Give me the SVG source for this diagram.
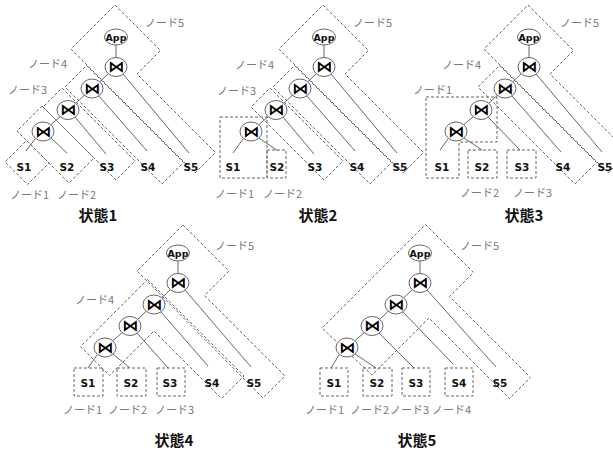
<svg xmlns="http://www.w3.org/2000/svg" width="613" height="450" viewBox="0 0 613 450">
<style>
.bg{fill:#ffffff}
.box{fill:none;stroke:#666;stroke-width:1;stroke-dasharray:3,2}
.ln{stroke:#555;stroke-width:0.9;fill:none}
.ov{fill:#fff;stroke:#666;stroke-width:1}
.s{font-family:"DejaVu Sans",sans-serif;font-weight:bold;font-size:10.5px;fill:#111;text-anchor:middle}
.app{font-family:"DejaVu Sans",sans-serif;font-weight:bold;font-size:9.5px;fill:#111;text-anchor:middle}
.bt{font-family:"DejaVu Sans",sans-serif;font-weight:bold;font-size:16px;fill:#000;text-anchor:middle}
.lbl{font-family:"Noto Sans CJK JP",sans-serif;font-size:11px;fill:#777}
.ttl{font-family:"Noto Sans CJK JP",sans-serif;font-weight:bold;font-size:15px;fill:#111;text-anchor:middle}
</style>
<rect class="bg" width="613" height="450"/>

<!-- ================= 状態1 ================= -->
<g id="s1-node5"><polygon class="box" points="115,5 160.5,50.5 137,74 215.5,152.5 195,173 71,49"/><text class="lbl" x="145" y="27">ノード5</text></g>
<g id="s1-node4"><polygon class="box" points="86.5,65.5 183.5,162.5 162,184 65,87"/><text class="lbl" x="28" y="68">ノード4</text></g>
<g id="s1-node3"><polygon class="box" points="62,88 135,161 116,180 43,107"/><text class="lbl" x="8" y="94">ノード3</text></g>
<g id="s1-node2"><polygon class="box" points="42,106 94,158 69,183 17,131"/><text class="lbl" x="57" y="199">ノード2</text></g>
<g id="s1-node1"><polygon class="box" points="26.5,140.5 49,163 27.5,184.5 5,162"/><text class="lbl" x="10" y="199">ノード1</text></g>

<!-- ================= 状態2 ================= -->
<g id="s2-node5"><polygon class="box" points="323,5 368.5,50.5 345,74 423.5,152.5 403,173 279,49"/><text class="lbl" x="353" y="27">ノード5</text></g>
<g id="s2-node4"><polygon class="box" points="294.5,65.5 391.5,162.5 370,184 273,87"/><text class="lbl" x="235" y="69">ノード4</text></g>
<g id="s2-node3"><polygon class="box" points="270,88 343,161 324,180 251,107"/><text class="lbl" x="217" y="95">ノード3</text></g>
<g id="s2-node1"><rect class="box" x="220" y="117" width="47" height="61"/><text class="lbl" x="215" y="198">ノード1</text></g>
<g id="s2-node2"><rect class="box" x="267" y="150" width="19" height="28"/><text class="lbl" x="263" y="198">ノード2</text></g>

<!-- ================= 状態3 ================= -->
<g id="s3-node5"><polygon class="box" points="528,5 573.5,50.5 550,74 628.5,152.5 608,173 484,49"/><text class="lbl" x="560" y="27">ノード5</text></g>
<g id="s3-node4"><polygon class="box" points="499.5,65.5 596.5,162.5 575,184 478,87"/><text class="lbl" x="442" y="69">ノード4</text></g>
<g id="s3-node1"><polygon class="box" points="426,97 497,97 497,142 459,142 459,178 426,178"/><text class="lbl" x="413" y="94">ノード1</text></g>
<g id="s3-node2"><rect class="box" x="468" y="150" width="29" height="28"/><text class="lbl" x="460" y="197">ノード2</text></g>
<g id="s3-node3"><rect class="box" x="507" y="150" width="29" height="28"/><text class="lbl" x="513" y="197">ノード3</text></g>

<!-- ================= 状態4 ================= -->
<g id="s4-node5"><polygon class="box" points="183,225 229,271 204.5,295.5 285,376 263,398 137,271"/><text class="lbl" x="215" y="250">ノード5</text></g>
<g id="s4-node4"><polygon class="box" points="147.5,279.5 244,376 221.5,398.5 154,331 109.5,375.5 80.5,346.5"/><text class="lbl" x="75" y="304">ノード4</text></g>
<g id="s4-node1"><rect class="box" x="74" y="368" width="29" height="28"/><text class="lbl" x="63" y="414">ノード1</text></g>
<g id="s4-node2"><rect class="box" x="117" y="368" width="29" height="28"/><text class="lbl" x="108" y="414">ノード2</text></g>
<g id="s4-node3"><rect class="box" x="157" y="368" width="28" height="28"/><text class="lbl" x="155" y="414">ノード3</text></g>

<!-- ================= 状態5 ================= -->
<g id="s5-node5"><polygon class="box" points="425.5,224.5 473.5,272.5 449.5,296.5 530.5,377.5 509.5,398.5 429,318 372,375 322,328"/><text class="lbl" x="460" y="250">ノード5</text></g>
<g id="s5-node1"><rect class="box" x="320" y="368" width="28" height="28"/><text class="lbl" x="305" y="414">ノード1</text></g>
<g id="s5-node2"><rect class="box" x="363" y="368" width="29" height="28"/><text class="lbl" x="350" y="414">ノード2</text></g>
<g id="s5-node3"><rect class="box" x="402" y="368" width="28" height="28"/><text class="lbl" x="390" y="414">ノード3</text></g>
<g id="s5-node4"><rect class="box" x="445" y="368" width="28" height="28"/><text class="lbl" x="432" y="414">ノード4</text></g>

<!-- ================= connectors ================= -->
<g id="connectors">
  <path class="ln" d="M116,45V58 M108.5,73.5L99.5,82 M84.5,95L75.5,103.5 M60.5,116.5L51,124.5 M35,139L26,151 M51,138L67,153 M75,117L106,154 M99,96L147,151 M123,74L189,153"/>
  <path class="ln" d="M324,45V58 M316.5,73.5L307.5,82 M292.5,95L283.5,103.5 M268.5,116.5L259,124.5 M243,139L233,153 M259,138L278,151 M283,117L314,154 M307,96L355,151 M331,74L397,153"/>
  <path class="ln" d="M529,45V58 M521.5,73.5L512.5,82 M497.5,95L488.5,103.5 M473.5,116.5L464,124.5 M448,139L440,150 M464,138L482,150 M488,117L520,150 M512,96L561,152 M536,74L602,152"/>
  <path class="ln" d="M178,261V274 M170.5,289.5L161.5,298 M146.5,311L137.5,319.5 M122.5,332.5L113,340.5 M97,355L88,368 M113,354L130,368 M137,333L168,368 M161,312L208,366 M185,290L251,367"/>
  <path class="ln" d="M420,261V274 M412.5,289.5L403.5,298 M388.5,311L379.5,319.5 M364.5,332.5L355,340.5 M339,355L331,368 M355,354L376,368 M379,333L414,368 M403,312L453,364 M427,290L496,367"/>
</g>

<!-- ================= tree nodes ================= -->
<g id="s1-app"><ellipse class="ov" cx="116" cy="37" rx="11.5" ry="8"/><text class="app" x="116" y="40.5">App</text></g>
<g id="s1-j1"><ellipse class="ov" cx="116" cy="67" rx="11" ry="9.5"/><text class="bt" x="116" y="72">⋈</text></g>
<g id="s1-j2"><ellipse class="ov" cx="92" cy="88.5" rx="11" ry="9.5"/><text class="bt" x="92" y="93.5">⋈</text></g>
<g id="s1-j3"><ellipse class="ov" cx="68" cy="110" rx="11" ry="9.5"/><text class="bt" x="68" y="115">⋈</text></g>
<g id="s1-j4"><ellipse class="ov" cx="43" cy="131.5" rx="11" ry="9.5"/><text class="bt" x="43" y="136.5">⋈</text></g>
<g id="s1-leaves"><text class="s" x="24" y="171">S1</text><text class="s" x="67" y="171">S2</text><text class="s" x="107" y="171">S3</text><text class="s" x="148" y="171">S4</text><text class="s" x="191" y="171">S5</text></g>
<text class="ttl" x="98" y="221">状態1</text>

<g id="s2-app"><ellipse class="ov" cx="324" cy="37" rx="11.5" ry="8"/><text class="app" x="324" y="40.5">App</text></g>
<g id="s2-j1"><ellipse class="ov" cx="324" cy="67" rx="11" ry="9.5"/><text class="bt" x="324" y="72">⋈</text></g>
<g id="s2-j2"><ellipse class="ov" cx="300" cy="88.5" rx="11" ry="9.5"/><text class="bt" x="300" y="93.5">⋈</text></g>
<g id="s2-j3"><ellipse class="ov" cx="276" cy="110" rx="11" ry="9.5"/><text class="bt" x="276" y="115">⋈</text></g>
<g id="s2-j4"><ellipse class="ov" cx="251" cy="131.5" rx="11" ry="9.5"/><text class="bt" x="251" y="136.5">⋈</text></g>
<g id="s2-leaves"><text class="s" x="233" y="171">S1</text><text class="s" x="277" y="171">S2</text><text class="s" x="315" y="171">S3</text><text class="s" x="357" y="171">S4</text><text class="s" x="400" y="171">S5</text></g>
<text class="ttl" x="318" y="221">状態2</text>

<g id="s3-app"><ellipse class="ov" cx="529" cy="37" rx="11.5" ry="8"/><text class="app" x="529" y="40.5">App</text></g>
<g id="s3-j1"><ellipse class="ov" cx="529" cy="67" rx="11" ry="9.5"/><text class="bt" x="529" y="72">⋈</text></g>
<g id="s3-j2"><ellipse class="ov" cx="505" cy="88.5" rx="11" ry="9.5"/><text class="bt" x="505" y="93.5">⋈</text></g>
<g id="s3-j3"><ellipse class="ov" cx="481" cy="110" rx="11" ry="9.5"/><text class="bt" x="481" y="115">⋈</text></g>
<g id="s3-j4"><ellipse class="ov" cx="456" cy="131.5" rx="11" ry="9.5"/><text class="bt" x="456" y="136.5">⋈</text></g>
<g id="s3-leaves"><text class="s" x="442" y="171">S1</text><text class="s" x="482" y="171">S2</text><text class="s" x="522" y="171">S3</text><text class="s" x="563" y="171">S4</text><text class="s" x="605" y="171">S5</text></g>
<text class="ttl" x="524" y="221">状態3</text>

<g id="s4-app"><ellipse class="ov" cx="178" cy="253" rx="11.5" ry="8"/><text class="app" x="178" y="256.5">App</text></g>
<g id="s4-j1"><ellipse class="ov" cx="178" cy="283" rx="11" ry="9.5"/><text class="bt" x="178" y="288">⋈</text></g>
<g id="s4-j2"><ellipse class="ov" cx="154" cy="304.5" rx="11" ry="9.5"/><text class="bt" x="154" y="309.5">⋈</text></g>
<g id="s4-j3"><ellipse class="ov" cx="130" cy="326" rx="11" ry="9.5"/><text class="bt" x="130" y="331">⋈</text></g>
<g id="s4-j4"><ellipse class="ov" cx="105" cy="347.5" rx="11" ry="9.5"/><text class="bt" x="105" y="352.5">⋈</text></g>
<g id="s4-leaves"><text class="s" x="88" y="387">S1</text><text class="s" x="131" y="387">S2</text><text class="s" x="170" y="387">S3</text><text class="s" x="212" y="387">S4</text><text class="s" x="254" y="387">S5</text></g>
<text class="ttl" x="174" y="446">状態4</text>

<g id="s5-app"><ellipse class="ov" cx="420" cy="253" rx="11.5" ry="8"/><text class="app" x="420" y="256.5">App</text></g>
<g id="s5-j1"><ellipse class="ov" cx="420" cy="283" rx="11" ry="9.5"/><text class="bt" x="420" y="288">⋈</text></g>
<g id="s5-j2"><ellipse class="ov" cx="396" cy="304.5" rx="11" ry="9.5"/><text class="bt" x="396" y="309.5">⋈</text></g>
<g id="s5-j3"><ellipse class="ov" cx="372" cy="326" rx="11" ry="9.5"/><text class="bt" x="372" y="331">⋈</text></g>
<g id="s5-j4"><ellipse class="ov" cx="347" cy="347.5" rx="11" ry="9.5"/><text class="bt" x="347" y="352.5">⋈</text></g>
<g id="s5-leaves"><text class="s" x="334" y="387">S1</text><text class="s" x="377" y="387">S2</text><text class="s" x="416" y="387">S3</text><text class="s" x="459" y="387">S4</text><text class="s" x="500" y="387">S5</text></g>
<text class="ttl" x="417" y="446">状態5</text>
</svg>
